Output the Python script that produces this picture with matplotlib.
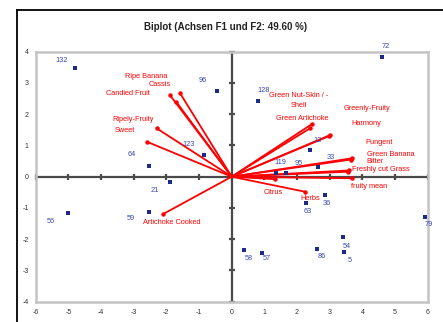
import numpy as np
import matplotlib
matplotlib.use("Agg")
import matplotlib.pyplot as plt
from matplotlib.lines import Line2D

plt.rcParams['font.family'] = ['Liberation Sans', 'DejaVu Sans']
plt.rcParams['axes.unicode_minus'] = False

# observations (F1, F2)
obs_names = ['132', '96', '123', '64', '21', '59', '56', '128', '72', '13', '33',
             '119', '95', '36', '63', '79', '54', '5', '86', '58', '57']
obs_x = [-4.80, -0.46, -0.84, -2.52, -1.89, -2.53, -5.00, 0.81, 4.61, 2.40, 2.65,
         1.35, 1.66, 2.86, 2.27, 5.92, 3.42, 3.44, 2.60, 0.39, 0.94]
obs_y = [3.47, 2.75, 0.69, 0.35, -0.16, -1.12, -1.16, 2.43, 3.84, 0.85, 0.30,
         0.11, 0.11, -0.59, -0.83, -1.28, -1.94, -2.42, -2.31, -2.35, -2.44]

# variables (loadings)
var_names = ['Ripe Banana', 'Cassis', 'Candied Fruit', 'Ripely-Fruity', 'Sweet',
             'Artichoke Cooked', 'Green Nut-Skin / -\nShell', 'Green Artichoke',
             'Greenly-Fruity', 'Harmony', 'Pungent', 'Green Banana', 'Bitter',
             'Freshly cut Grass', 'fruity mean', 'Citrus', 'Herbs']
var_x = [-1.89, -1.58, -1.70, -2.30, -2.60, -2.09, 2.45, 2.40,
         3.01, 2.98, 3.69, 3.66, 3.60, 3.57, 3.67, 1.33, 2.24]
var_y = [2.61, 2.67, 2.40, 1.55, 1.12, -1.19, 1.68, 1.55,
         1.33, 1.30, 0.59, 0.55, 0.20, 0.16, -0.05, -0.08, -0.48]

# label offsets in pixels (dx right, dy down)
obs_off = [(-13, -8), (-14, -10), (-16, -11), (-18, -11), (-15, 9), (-18, 7), (-18, 9),
           (5, -10), (3, -10), (7, -10), (13, -10), (5, -11), (13, -10), (2, 8), (2, 9),
           (4, 8), (3, 9), (6, 8), (5, 8), (4, 8), (4, 6)]
var_off = [(-24, -19), (-20, -9), (-48, -8), (-23, -9), (-22, -11), (8, 9), (-13, -24),
           (-8, -10), (37, -27), (37, -13), (27, -16), (40, -5), (26, -9), (33, -2),
           (18, 8), (-2, 13), (5, 7)]

W, H = 443, 322
fig = plt.figure(figsize=(W / 100, H / 100), dpi=100)
ax = fig.add_axes([35.7 / W, 1 - 301.7 / H, (427.7 - 35.7) / W, (301.7 - 51.7) / H])

px = 0.72  # points per pixel

red = '#ff0000'
for x, y, name, (dx, dy) in zip(var_x, var_y, var_names, var_off):
    ax.plot([0, x], [0, y], color=red, lw=1.3, solid_capstyle='round', zorder=3)
    ax.plot(x, y, 'o', color=red, ms=2.2, zorder=3)
    ax.annotate(name, (x, y), xytext=(dx * px, -dy * px), textcoords='offset points',
                ha='center', va='center', color=red, fontsize=5.3, linespacing=1.6,
                zorder=4)

ax.scatter(obs_x, obs_y, marker='s', s=6, color='#1c2a8a', zorder=5, linewidths=0)
for x, y, name, (dx, dy) in zip(obs_x, obs_y, obs_names, obs_off):
    ax.annotate(name, (x, y), xytext=(dx * px, -dy * px), textcoords='offset points',
                ha='center', va='center', color='#3848b0', fontsize=5.3, zorder=5)

# zero axes with tick marks
axc = '#4a4a4a'
ax.axhline(0, color=axc, lw=1.6, zorder=2)
ax.axvline(0, color=axc, lw=1.6, zorder=2)
ax.plot(np.arange(-6, 7), np.zeros(13), ls='none', marker='|', ms=5, mew=1.6,
        color=axc, zorder=2, clip_on=False)
ax.plot(np.zeros(9), np.arange(-4, 5), ls='none', marker='_', ms=5, mew=1.6,
        color=axc, zorder=2, clip_on=False)

ax.set_xlim(-6, 6)
ax.set_ylim(-4, 4)
ax.set_xticks(np.arange(-6, 7))
ax.set_yticks(np.arange(-4, 5))
ax.tick_params(length=0, labelsize=5, labelcolor='#333333')
ax.tick_params(axis='x', pad=5)
ax.tick_params(axis='y', pad=5)
for s in ax.spines.values():
    s.set_color('#c4c4c4')
    s.set_linewidth(1.8)

fig.text(226 / W, 1 - 27 / H, 'Biplot (Achsen F1 und F2: 49.60 %)', ha='center',
         va='center', fontsize=7, fontweight='bold', color='#222222')

# outer black frame (top and left visible)
fig.add_artist(Line2D([17 / W, 17 / W], [0, 1 - 10 / H], color='black', lw=1.3,
                      transform=fig.transFigure))
fig.add_artist(Line2D([17 / W, 1], [1 - 10 / H, 1 - 10 / H], color='black', lw=1.3,
                      transform=fig.transFigure))

fig.savefig('out.png', dpi=100)
